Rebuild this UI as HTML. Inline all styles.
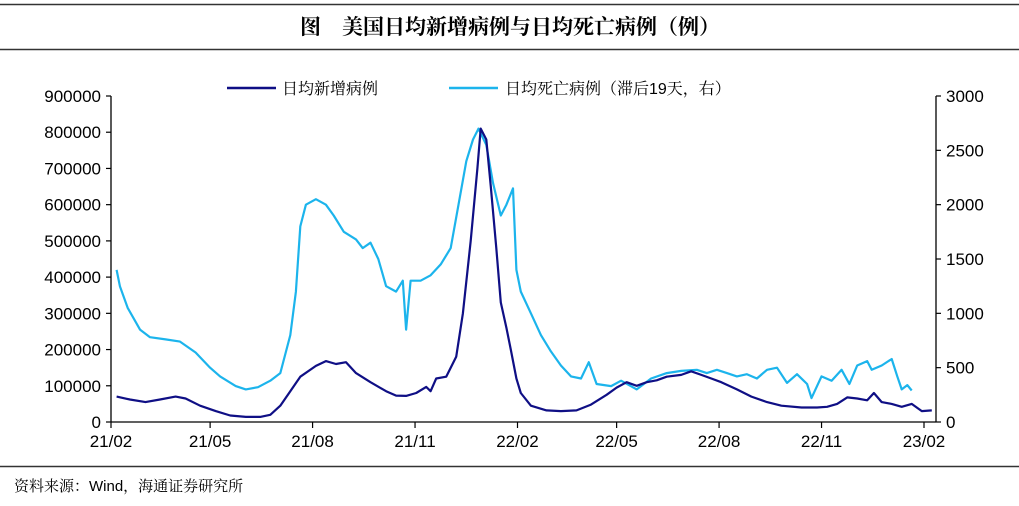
<!DOCTYPE html>
<html><head><meta charset="utf-8">
<style>
html,body{margin:0;padding:0;background:#fff;}
body{width:1019px;height:501px;overflow:hidden;position:relative;font-family:"Liberation Sans","Noto Sans CJK SC",sans-serif;}
</style></head>
<body>
<svg id="chart" width="1019" height="501" viewBox="0 0 1019 501" xmlns="http://www.w3.org/2000/svg">
<line x1="0" y1="4.5" x2="1019" y2="4.5" stroke="#333" stroke-width="1.5"/>
<line x1="0" y1="49.5" x2="1019" y2="49.5" stroke="#333" stroke-width="1.5"/>
<text x="510" y="34" text-anchor="middle" font-family="'Noto Serif CJK SC',serif" font-weight="bold" font-size="21" fill="#000">图　美国日均新增病例与日均死亡病例（例）</text>
<line x1="0" y1="466.5" x2="1019" y2="466.5" stroke="#333" stroke-width="1.5"/>
<text x="14" y="491" font-family="'Liberation Sans','Noto Serif CJK SC',serif" font-size="15" fill="#000">资料来源：Wind，海通证券研究所</text>
<g id="legend">
<line x1="227" y1="88" x2="276" y2="88" stroke="#0f0f85" stroke-width="2.5"/>
<text x="282" y="94" font-family="'Noto Serif CJK SC',serif" font-size="16" fill="#000">日均新增病例</text>
<line x1="449" y1="88" x2="498" y2="88" stroke="#1cb4ec" stroke-width="2.5"/>
<text x="505" y="94" font-family="'Liberation Sans','Noto Serif CJK SC',serif" font-size="16" fill="#000">日均死亡病例（滞后19天，右）</text>
</g>
<g id="axes"></g>
<g id="series"></g>
</svg>
<script>
const xTickLabels=["21/02","21/05","21/08","21/11","22/02","22/05","22/08","22/11","23/02"];
const xTickDays=[0,89,181,273,365,454,546,638,730];
const leftTicks=[0,100000,200000,300000,400000,500000,600000,700000,800000,900000];
const rightTicks=[0,500,1000,1500,2000,2500,3000];
const caseDays=[5,17,31,44,58,67,80,94,107,121,134,143,152,161,170,184,193,202,211,220,233,247,256,265,274,283,287,292,301,310,316,323,329,332,337,341,346,350,355,359,364,368,377,391,404,418,431,445,454,463,472,481,490,499,512,521,530,539,548,562,575,589,602,620,634,643,652,661,670,679,685,692,701,710,719,728,737];
const caseValues=[70000,62000,55000,62000,70000,65000,45000,30000,18000,14000,14000,20000,45000,85000,125000,155000,168000,160000,165000,135000,110000,85000,73000,72000,80000,97000,85000,120000,125000,180000,300000,500000,700000,810000,780000,650000,480000,330000,260000,200000,120000,80000,45000,32000,30000,32000,48000,75000,95000,110000,100000,110000,115000,125000,130000,140000,130000,120000,110000,90000,70000,55000,45000,40000,40000,42000,50000,68000,65000,60000,80000,55000,50000,42000,50000,30000,32000];
const deathDays=[5,8,15,26,35,49,62,76,89,98,112,121,132,143,152,161,166,170,175,184,193,200,209,220,226,233,240,247,256,262,265,269,278,287,296,305,312,319,325,330,337,343,350,355,361,364,368,377,386,395,404,413,422,429,436,449,458,472,485,499,512,526,535,544,553,562,571,580,589,598,607,616,625,629,638,647,656,663,670,679,683,692,701,706,710,715,719];
const deathValues=[1400,1250,1050,850,780,760,740,640,500,420,330,300,320,380,450,800,1200,1800,2000,2050,2000,1900,1750,1680,1600,1650,1500,1250,1200,1300,850,1300,1300,1350,1450,1600,2000,2400,2600,2700,2550,2200,1900,2000,2150,1400,1200,1000,800,650,520,420,400,550,350,330,380,300,400,450,470,480,450,480,450,420,440,400,480,500,360,440,350,220,420,380,480,350,520,560,480,520,580,420,300,340,290];

const X0=111,X1=924,Y0=422,YT=96,RX=936;
const xs=d=>X0+d*(X1-X0)/730;
const yl=v=>Y0-v*(Y0-YT)/900000;
const yr=v=>Y0-v*(Y0-YT)/3000;
const NS="http://www.w3.org/2000/svg";
const axes=document.getElementById('axes'),series=document.getElementById('series');
function mk(tag,attrs,parent){const e=document.createElementNS(NS,tag);for(const k in attrs)e.setAttribute(k,attrs[k]);parent.appendChild(e);return e;}
let e;
e=mk('line',{x1:X0,y1:YT,x2:X0,y2:Y0,stroke:'#000','stroke-width':1.3},axes);


e=mk('line',{x1:RX,y1:YT,x2:RX,y2:Y0,stroke:'#000','stroke-width':1.3},axes);


e=mk('line',{x1:X0,y1:Y0,x2:RX,y2:Y0,stroke:'#000','stroke-width':1.3},axes);


leftTicks.forEach(v=>{const y=yl(v);
 mk('line',{x1:X0-5,y1:y,x2:X0,y2:y,stroke:'#000','stroke-width':1.2},axes);
 const t=mk('text',{x:X0-10,y:y+6,'text-anchor':'end','font-size':17,fill:'#000'},axes);t.textContent=v;
 
 });
rightTicks.forEach(v=>{const y=yr(v);
 mk('line',{x1:RX,y1:y,x2:RX+5,y2:y,stroke:'#000','stroke-width':1.2},axes);
 const t=mk('text',{x:RX+10,y:y+6,'text-anchor':'start','font-size':17,fill:'#000'},axes);t.textContent=v;
 
 });
xTickLabels.forEach((l,i)=>{const x=xs(xTickDays[i]);
 mk('line',{x1:x,y1:Y0,x2:x,y2:Y0+6,stroke:'#000','stroke-width':1.2},axes);
 const t=mk('text',{x:x,y:Y0+25,'text-anchor':'middle','font-size':17,fill:'#000'},axes);t.textContent=l;
 
 });
function path(days,vals,yf,color){return days.map((d,i)=>(i?'L':'M')+xs(d).toFixed(1)+','+yf(vals[i]).toFixed(1)).join(' ');}
e=mk('path',{d:path(deathDays,deathValues,yr),fill:'none',stroke:'#1cb4ec','stroke-width':2.2,'stroke-linejoin':'round'},series);


e=mk('path',{d:path(caseDays,caseValues,yl),fill:'none',stroke:'#0f0f85','stroke-width':2.2,'stroke-linejoin':'round'},series);


</script>
</body></html>
